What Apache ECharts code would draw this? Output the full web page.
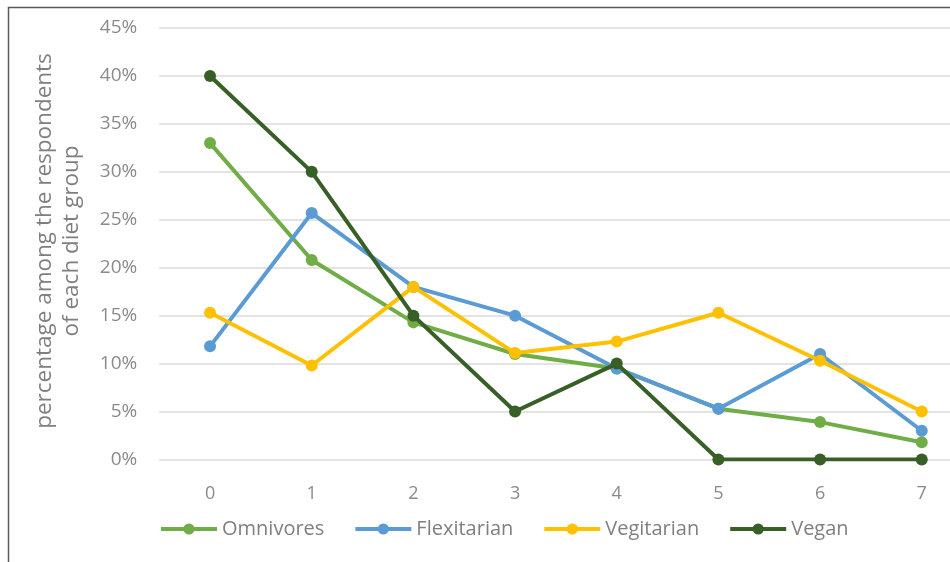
<!DOCTYPE html>
<html>
<head>
<meta charset="utf-8">
<script src="https://cdn.jsdelivr.net/npm/echarts@6/dist/echarts.min.js"></script>
<style>
html,body{margin:0;padding:0;background:#fff;}
#chart{width:950px;height:562px;}
</style>
</head>
<body>
<div id="chart"></div>
<script>
const categories = ['0', '1', '2', '3', '4', '5', '6', '7'];
const omnivores = [33, 20.8, 14.3, 11, 9.5, 5.3, 3.9, 1.8];
const flexitarian = [11.8, 25.7, 18, 15, 9.5, 5.3, 11, 3];
const vegitarian = [15.3, 9.8, 18, 11.1, 12.3, 15.3, 10.3, 5];
const vegan = [40, 30, 15, 5, 10, 0, 0, 0];
const seriesNames = ['Omnivores', 'Flexitarian', 'Vegitarian', 'Vegan'];
const seriesColors = ['#70AD47', '#5B9BD5', '#FFC000', '#375F26'];
const seriesData = [omnivores, flexitarian, vegitarian, vegan];
const yTitleLines = ['percentage among the respondents', 'of each diet group'];

const FONT = 'Open Sans';
const chart = echarts.init(document.getElementById('chart'), null, {renderer: 'canvas'});

const option = {
  backgroundColor: '#ffffff',
  animation: false,
  textStyle: {fontFamily: FONT},
  grid: {left: 159.2, right: -22.6, top: 28, bottom: 102.5, containLabel: false, outerBoundsMode: 'none'},
  legend: {
    left: 154,
    top: 514,
    itemWidth: 56,
    itemHeight: 14,
    itemGap: 29,
    lineStyle: {width: 4},
    textStyle: {fontFamily: FONT, fontSize: 20, color: '#7f7f7f'},
    data: seriesNames
  },
  xAxis: {
    type: 'category',
    data: categories,
    boundaryGap: true,
    axisLine: {show: false},
    axisTick: {show: false},
    axisLabel: {margin: 25, fontFamily: FONT, fontSize: 18, color: '#8a8a8a'}
  },
  yAxis: {
    type: 'value',
    min: 0,
    max: 45,
    interval: 5,
    axisLine: {show: false},
    axisTick: {show: false},
    axisLabel: {margin: 22, fontFamily: FONT, fontSize: 19, color: '#8a8a8a', formatter: '{value}%'},
    splitLine: {lineStyle: {color: '#e3e3e3', width: 2}}
  },
  series: seriesNames.map((n, i) => ({
    name: n,
    type: 'line',
    data: seriesData[i],
    symbol: 'circle',
    symbolSize: 12,
    lineStyle: {width: 4, color: seriesColors[i]},
    itemStyle: {color: seriesColors[i]},
    z: 2 + i
  })),
  graphic: [{
    type: 'polyline',
    shape: {points: [[8.5, 562], [8.5, 7.5], [950, 7.5]]},
    style: {stroke: '#5a5a5a', lineWidth: 1.5, fill: null},
    silent: true
  }].concat(yTitleLines.map((t, i) => ({
    type: 'text',
    x: 45 + i * 27,
    y: 241,
    rotation: Math.PI / 2,
    silent: true,
    style: {
      text: t,
      fontFamily: FONT,
      fontSize: 22.5,
      fill: '#7f7f7f',
      textAlign: 'center',
      textVerticalAlign: 'middle'
    }
  })))
};
chart.setOption(option);
</script>
</body>
</html>
